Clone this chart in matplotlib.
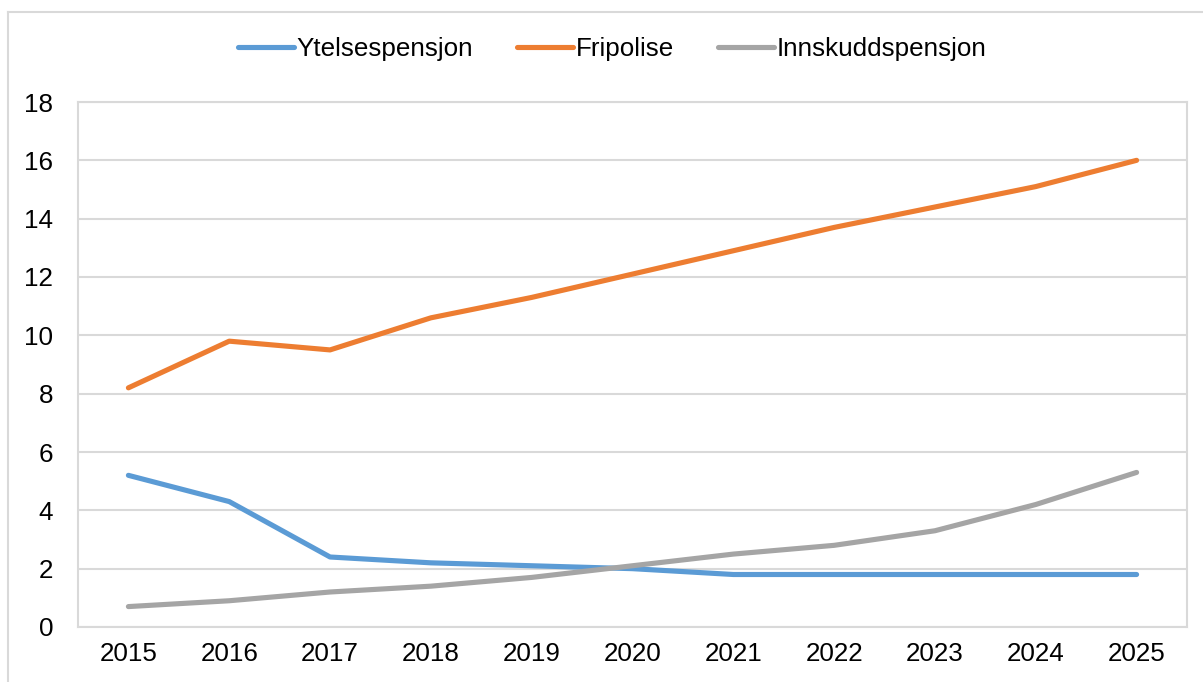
import matplotlib
matplotlib.use("Agg")
import matplotlib.pyplot as plt
from matplotlib.lines import Line2D

years = ["2015", "2016", "2017", "2018", "2019", "2020", "2021", "2022", "2023", "2024", "2025"]
ytelsespensjon = [5.2, 4.3, 2.4, 2.2, 2.1, 2.0, 1.8, 1.8, 1.8, 1.8, 1.8]
fripolise = [8.2, 9.8, 9.5, 10.6, 11.3, 12.1, 12.9, 13.7, 14.4, 15.1, 16.0]
innskuddspensjon = [0.7, 0.9, 1.2, 1.4, 1.7, 2.1, 2.5, 2.8, 3.3, 4.2, 5.3]
series_names = ["Ytelsespensjon", "Fripolise", "Innskuddspensjon"]
y_ticks = [0, 2, 4, 6, 8, 10, 12, 14, 16, 18]

colors = ["#5B9BD5", "#ED7D31", "#A5A5A5"]
plt.rcParams['font.family'] = ['Liberation Sans', 'DejaVu Sans']

W, H = 1203, 682
fig = plt.figure(figsize=(W / 100, H / 100), dpi=100)
ax = fig.add_axes([78 / W, 1 - 627 / H, (1187 - 78) / W, (627 - 102) / H])

x = list(range(len(years)))
for vals, c, name in zip([ytelsespensjon, fripolise, innskuddspensjon], colors, series_names):
    ax.plot(x, vals, color=c, lw=3.7, solid_capstyle='round', solid_joinstyle='round', label=name, zorder=3)

ax.set_xlim(-0.5, len(years) - 0.5)
ax.set_ylim(0, 18)
ax.set_yticks(y_ticks)
ax.set_xticks(x)
ax.set_xticklabels(years)
ax.grid(axis='y', color='#d9d9d9', lw=1.5, zorder=0)
ax.tick_params(axis='both', length=0, labelsize=18.7, colors='black')
ax.tick_params(axis='y', pad=18)
ax.tick_params(axis='x', pad=11)
for s in ax.spines.values():
    s.set_color('#d9d9d9')
    s.set_linewidth(1.5)

# outer chart frame
fig.add_artist(Line2D([8 / W, 8 / W], [0, 1 - 12 / H], transform=fig.transFigure, color='#d9d9d9', lw=1.5))
fig.add_artist(Line2D([8 / W, 1], [1 - 12 / H, 1 - 12 / H], transform=fig.transFigure, color='#d9d9d9', lw=1.5))

fig.legend(loc='center', bbox_to_anchor=(612 / W, 1 - 49 / H), ncol=3, frameon=False,
           fontsize=18.7, handlelength=2.15, handletextpad=0.1, columnspacing=1.7)

fig.savefig("out.png", dpi=100)
